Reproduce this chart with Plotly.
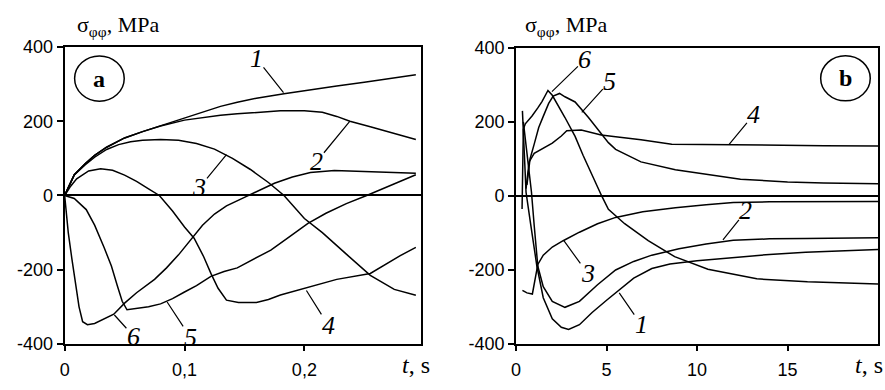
import plotly.graph_objects as go

# ---------------- Panel (a): t in s, sigma in MPa ----------------
a1_t = [0, 0.008, 0.017, 0.025, 0.035, 0.05, 0.065, 0.08, 0.1, 0.116, 0.13, 0.144, 0.16, 0.183, 0.205, 0.227, 0.25, 0.27, 0.293]
a1_s = [0, 56, 85, 108, 130, 155, 172, 188, 208, 226, 240, 251, 262, 274, 285, 295, 305, 315, 325]

a2_t = [0, 0.008, 0.017, 0.025, 0.035, 0.05, 0.065, 0.08, 0.1, 0.116, 0.13, 0.144, 0.16, 0.18, 0.2, 0.215, 0.227, 0.238, 0.255, 0.275, 0.293]
a2_s = [0, 56, 85, 108, 130, 155, 172, 187, 203, 211, 216, 220, 224, 228, 228, 224, 213, 200, 185, 168, 151]

a3_t = [0, 0.008, 0.017, 0.025, 0.035, 0.045, 0.055, 0.065, 0.08, 0.095, 0.11, 0.125, 0.14, 0.155, 0.17, 0.183, 0.2, 0.215, 0.235, 0.255, 0.275, 0.293]
a3_s = [0, 55, 82, 103, 124, 137, 145, 149, 151, 149, 140, 125, 100, 70, 35, 0, -62, -100, -158, -215, -253, -269]

a4_t = [0, 0.005, 0.01, 0.02, 0.03, 0.04, 0.05, 0.06, 0.07, 0.079, 0.09, 0.1, 0.108, 0.116, 0.122, 0.128, 0.135, 0.145, 0.16, 0.17, 0.18, 0.2, 0.227, 0.255, 0.268, 0.28, 0.293]
a4_s = [0, 25, 45, 66, 72, 68, 55, 38, 18, 0, -42, -85, -115, -165, -210, -250, -282, -288, -288, -280, -268, -251, -226, -210, -185, -162, -140]

a5_t = [0, 0.008, 0.018, 0.025, 0.033, 0.039, 0.044, 0.048, 0.052, 0.06, 0.07, 0.08, 0.09, 0.1, 0.11, 0.122, 0.133, 0.144, 0.158, 0.172, 0.188, 0.203, 0.218, 0.235, 0.252, 0.265, 0.28, 0.293]
a5_s = [0, -8, -38, -80, -141, -190, -244, -285, -308, -305, -300, -292, -278, -260, -243, -218, -205, -195, -172, -147, -110, -75, -48, -22, 0, 18, 38, 56]

a6_t = [0, 0.003, 0.006, 0.009, 0.012, 0.015, 0.019, 0.025, 0.032, 0.041, 0.05, 0.06, 0.075, 0.085, 0.095, 0.105, 0.115, 0.125, 0.135, 0.15, 0.16, 0.175, 0.19, 0.205, 0.225, 0.25, 0.275, 0.293]
a6_s = [0, -100, -170, -240, -300, -340, -348, -345, -335, -320, -290, -262, -226, -195, -160, -120, -80, -50, -28, -5, 10, 33, 50, 62, 67, 65, 62, 60]

# ---------------- Panel (b) ----------------
b1_t = [0.35, 0.45, 0.55, 0.8, 1.15, 1.5, 2.0, 2.5, 2.9, 3.5, 4.2, 5.0, 5.5, 6.5, 7.5, 8.5, 10, 12, 14, 16, 18, 20]
b1_s = [230, 110, 10, -75, -190, -275, -332, -355, -361, -348, -315, -282, -262, -222, -196, -184, -175, -166, -158, -152, -148, -145]

b2_t = [0.4, 0.6, 0.85, 1.0, 1.2, 1.5, 2.0, 2.7, 3.5, 4.5, 5.5, 6.5, 7.5, 9, 10.5, 12, 14, 16, 18, 20]
b2_s = [200, 110, 10, -80, -190, -245, -285, -301, -285, -240, -200, -177, -160, -143, -130, -120, -116, -115, -114, -113]

b3_t = [0.35, 0.6, 0.9, 1.05, 1.2, 1.5, 2.0, 2.6, 3.5, 4.5, 5.5, 7.0, 8.8, 10.5, 12, 14, 17, 20]
b3_s = [-255, -262, -265, -230, -185, -160, -138, -121, -98, -75, -58, -43, -32, -24, -18, -16, -15, -15]

b4_t = [0.55, 0.72, 1.0, 1.5, 2.0, 2.5, 2.8, 3.6, 4.7, 5.5, 6.9, 8.6, 10, 12, 14.8, 17, 20]
b4_s = [20, 92, 115, 128, 143, 162, 176, 178, 165, 160, 152, 140, 139, 138, 137, 136, 135]

b5_t = [0.6, 0.77, 1.0, 1.25, 1.5, 1.8, 2.05, 2.4, 2.7, 3.26, 4.0, 4.5, 5.1, 5.5, 6.9, 8.8, 10.5, 12.4, 15, 17, 20]
b5_s = [30, 100, 140, 185, 215, 250, 270, 277, 268, 254, 212, 181, 144, 126, 92, 71, 58, 45, 38, 35, 33]

b6_t = [0.33, 0.36, 0.4, 0.51, 0.88, 1.2, 1.43, 1.76, 2.0, 2.7, 3.26, 3.7, 4.18, 4.73, 5.1, 6.0, 7.3, 8.76, 10.6, 13.3, 16.1, 20]
b6_s = [-35, 80, 180, 195, 216, 238, 255, 285, 272, 212, 161, 110, 58, 0, -36, -75, -121, -164, -198, -224, -232, -238]

# curve labels: (name, t, sigma, text dx, text dy)
labels_a = [("1", 0.1826, 277, -27, -34), ("2", 0.238, 200, -33, 40), ("3", 0.135, 110, -27, 33),
            ("4", 0.2017, -256, 22, 35), ("5", 0.0855, -287, 23, 35), ("6", 0.0415, -322, 19, 21)]
labels_b = [("6", 1.98, 282, 33, -32), ("5", 3.63, 226, 28, -31), ("4", 11.76, 139, 25, -30),
            ("3", 2.64, -121, 24, 33), ("2", 11.43, -119, 23, -29), ("1", 5.7, -262, 22, 32)]

yticks = [-400, -200, 0, 200, 400]
yticktext = ["-400", "-200", "0", "200", "400"]
xticks_a = [0, 0.1, 0.2]
xticktext_a = ["0", "0,1", "0,2"]
xticks_b = [0, 5, 10, 15]
xticktext_b = ["0", "5", "10", "15"]

W, H = 885, 390
fig = go.Figure()
line = dict(color="black", width=1.5)
for t, s in [(a1_t, a1_s), (a2_t, a2_s), (a3_t, a3_s), (a4_t, a4_s), (a5_t, a5_s), (a6_t, a6_s)]:
    fig.add_trace(go.Scatter(x=t, y=s, xaxis="x", yaxis="y", mode="lines", line=line,
                             showlegend=False, hoverinfo="skip"))
for t, s in [(b1_t, b1_s), (b2_t, b2_s), (b3_t, b3_s), (b4_t, b4_s), (b5_t, b5_s), (b6_t, b6_s)]:
    fig.add_trace(go.Scatter(x=t, y=s, xaxis="x2", yaxis="y2", mode="lines", line=line,
                             showlegend=False, hoverinfo="skip"))

tickfont = dict(family="Liberation Sans, Arial, sans-serif", size=18, color="black")
common_x = dict(ticks="outside", ticklen=5, tickwidth=1.5, tickcolor="black", showline=True,
                linecolor="black", linewidth=2, mirror=True, showgrid=False, zeroline=False,
                tickfont=tickfont, ticklabelstandoff=3)
common_y = dict(ticks="outside", ticklen=6, tickwidth=1.5, tickcolor="black", showline=True,
                linecolor="black", linewidth=2, mirror=True, showgrid=False, zeroline=True,
                zerolinecolor="black", zerolinewidth=1.5, range=[-400, 400],
                tickvals=yticks, ticktext=yticktext, tickfont=tickfont)

fig.update_layout(
    width=W, height=H, margin=dict(l=0, r=0, t=0, b=0),
    paper_bgcolor="white", plot_bgcolor="white",
    xaxis=dict(domain=[60 / W, 418 / W], range=[0, 0.297], tickvals=xticks_a, ticktext=xticktext_a,
               anchor="y", **common_x),
    yaxis=dict(domain=[38 / H, 351 / H], anchor="x", **common_y),
    xaxis2=dict(domain=[514 / W, 878 / W], range=[0, 20], tickvals=xticks_b, ticktext=xticktext_b,
                anchor="y2", **common_x),
    yaxis2=dict(domain=[38 / H, 350 / H], anchor="x2", **common_y),
)

annots = []
lab_font = dict(family="Liberation Serif, Times New Roman, serif", size=26, color="black")
for name, t, s, dx, dy in labels_a:
    annots.append(dict(x=t, y=s, xref="x", yref="y", text="<i>%s</i>" % name, showarrow=True,
                       arrowhead=0, arrowwidth=1.2, arrowcolor="black", ax=dx, ay=dy, standoff=0,
                       font=lab_font, borderpad=0))
for name, t, s, dx, dy in labels_b:
    annots.append(dict(x=t, y=s, xref="x2", yref="y2", text="<i>%s</i>" % name, showarrow=True,
                       arrowhead=0, arrowwidth=1.2, arrowcolor="black", ax=dx, ay=dy, standoff=0,
                       font=lab_font, borderpad=0))

title_font = dict(family="Liberation Serif, Times New Roman, serif", size=22, color="black")
annots.append(dict(x=70 / W, y=1 - 17 / H, xref="paper", yref="paper", xanchor="left", yanchor="middle",
                   text="σ<sub>φφ</sub>, MPa", showarrow=False, font=title_font))
annots.append(dict(x=521 / W, y=1 - 17 / H, xref="paper", yref="paper", xanchor="left", yanchor="middle",
                   text="σ<sub>φφ</sub>, MPa", showarrow=False, font=title_font))
ts_font = dict(family="Liberation Serif, serif", size=24, color="black")
annots.append(dict(x=429 / W, y=1 - 374 / H, xref="paper", yref="paper", xanchor="right", yanchor="middle",
                   text="<i>t</i>, s", showarrow=False, font=ts_font))
annots.append(dict(x=885 / W, y=1 - 374 / H, xref="paper", yref="paper", xanchor="right", yanchor="middle",
                   text="<i>t</i>, s", showarrow=False, font=ts_font))

# panel markers (a), (b)
circ_font = dict(family="Liberation Serif, Times New Roman, serif", size=24, color="black")
annots.append(dict(x=0.029, y=315, xref="x", yref="y", text="<b>a</b>", showarrow=False, font=circ_font))
annots.append(dict(x=18.2, y=318, xref="x2", yref="y2", text="<b>b</b>", showarrow=False, font=circ_font))
fig.update_layout(annotations=annots)

shapes = [
    dict(type="circle", xref="x", yref="y", x0=0.029 - 0.0207, x1=0.029 + 0.0207, y0=315 - 61, y1=315 + 61,
         line=dict(color="black", width=1.5)),
    dict(type="circle", xref="x2", yref="y2", x0=18.2 - 1.37, x1=18.2 + 1.37, y0=318 - 61, y1=318 + 61,
         line=dict(color="black", width=1.5)),
]
fig.update_layout(shapes=shapes)

fig.write_html("out.html")
